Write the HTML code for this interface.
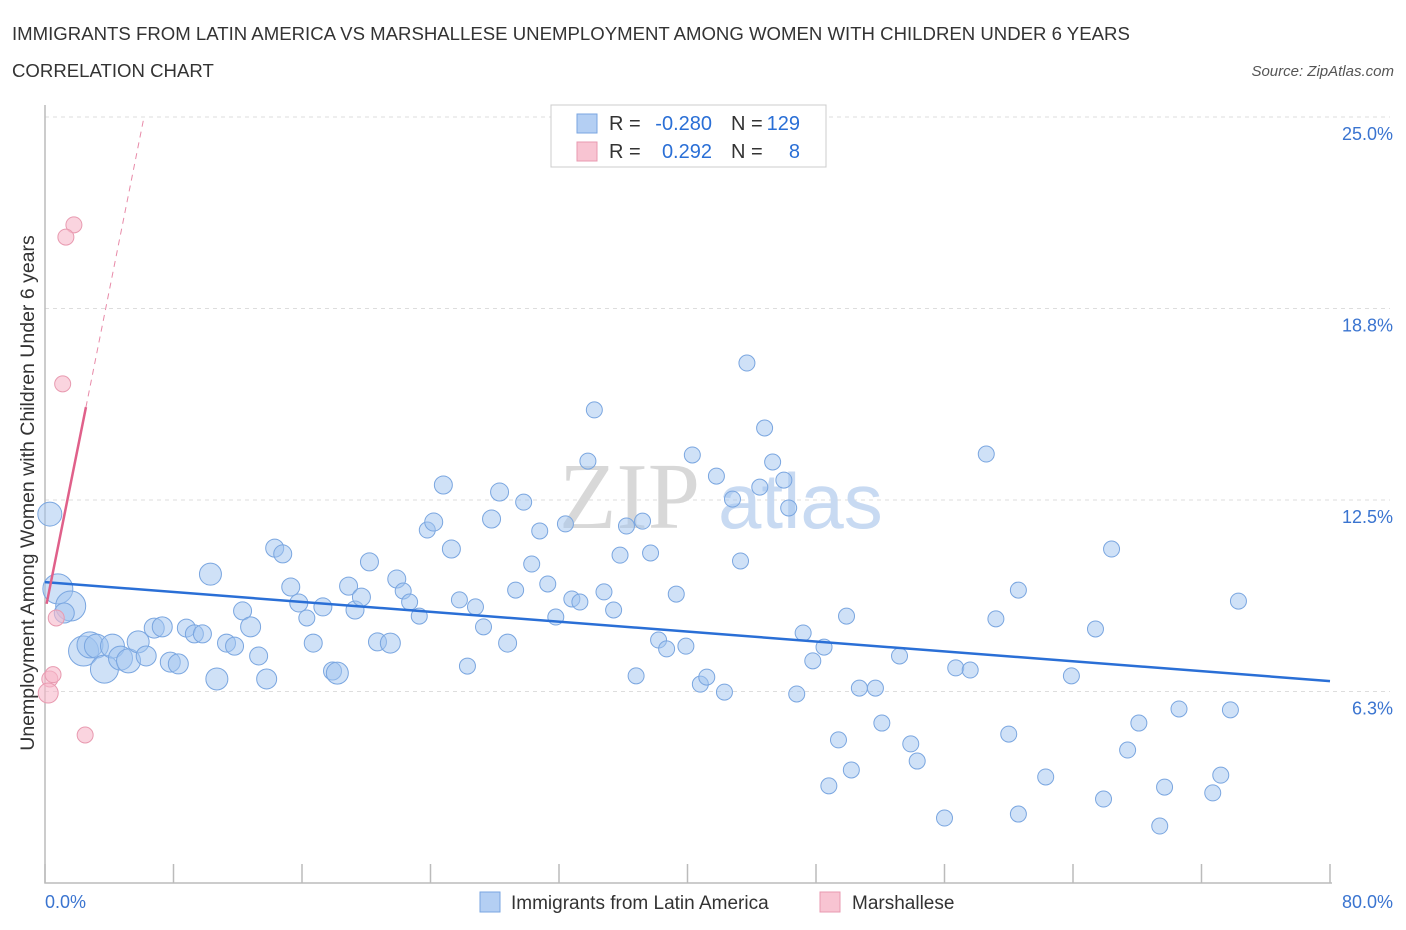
<!DOCTYPE html>
<html><head><meta charset="utf-8"><style>
body{margin:0;background:#fff;font-family:"Liberation Sans",sans-serif;}
svg{display:block}
</style></head><body>
<svg id="chart" width="1406" height="930">
<text x="12" y="40" font-size="18.6" fill="#333">IMMIGRANTS FROM LATIN AMERICA VS MARSHALLESE UNEMPLOYMENT AMONG WOMEN WITH CHILDREN UNDER 6 YEARS</text>
<text x="12" y="77" font-size="18.6" fill="#333">CORRELATION CHART</text>
<text x="1394" y="76" font-size="15" fill="#555" font-style="italic" text-anchor="end">Source: ZipAtlas.com</text>
<g id="grid"></g>
<text x="700" y="528" font-size="94" fill="#d8d8d8" font-family="Liberation Serif,serif" text-anchor="end">ZIP</text>
<text x="718" y="528" font-size="78" fill="#c8daf2">atlas</text>
<g id="marks"></g>
<text transform="translate(34,493) rotate(-90)" font-size="19.5" fill="#333" text-anchor="middle">Unemployment Among Women with Children Under 6 years</text>
<g>
<rect x="551" y="105" width="275" height="62" fill="#fff" stroke="#ccc"/>
<rect x="577" y="114" width="20" height="19" fill="#b4cff3" stroke="#7aa6e0"/>
<rect x="577" y="142" width="20" height="19" fill="#f8c4d2" stroke="#e89ab0"/>
<text x="609" y="130" font-size="20" fill="#333">R =</text>
<text x="712" y="130" font-size="20" fill="#2a6fd6" text-anchor="end">-0.280</text>
<text x="731" y="130" font-size="20" fill="#333">N =</text>
<text x="800" y="130" font-size="20" fill="#2a6fd6" text-anchor="end">129</text>
<text x="609" y="158" font-size="20" fill="#333">R =</text>
<text x="712" y="158" font-size="20" fill="#2a6fd6" text-anchor="end">0.292</text>
<text x="731" y="158" font-size="20" fill="#333">N =</text>
<text x="800" y="158" font-size="20" fill="#2a6fd6" text-anchor="end">8</text>
</g>
<g>
<rect x="480" y="892" width="20" height="20" fill="#b4cff3" stroke="#7aa6e0"/>
<text x="511" y="909" font-size="19" fill="#333">Immigrants from Latin America</text>
<rect x="820" y="892" width="20" height="20" fill="#f8c4d2" stroke="#e89ab0"/>
<text x="852" y="909" font-size="19" fill="#333">Marshallese</text>
</g>
</svg>
<script>
const yTicks=[6.25,12.5,18.75,25];
const yTickLabels=["6.3%","12.5%","18.8%","25.0%"];
const xTickVals=[0,8,16,24,32,40,48,56,64,72,80];
const xEndLabels=["0.0%","80.0%"];
const blueX=[0.3,0.8,1.6,1.2,2.4,2.8,3.2,3.7,4.2,4.7,5.2,5.8,6.3,6.8,7.3,7.8,8.3,8.8,9.3,9.8,10.3,10.7,11.3,11.8,12.3,12.8,13.3,13.8,14.3,14.8,15.3,15.8,16.3,16.7,17.3,17.9,18.2,18.9,19.3,19.7,20.2,20.7,21.5,21.9,22.3,22.7,23.3,23.8,24.2,24.8,25.3,25.8,26.3,26.8,27.3,27.8,28.3,28.8,29.3,29.8,30.3,30.8,31.3,31.8,32.4,32.8,33.3,33.8,34.2,34.8,35.4,35.8,36.2,36.8,37.2,37.7,38.2,38.7,39.3,39.9,40.3,40.8,41.2,41.8,42.3,42.8,43.3,43.7,44.5,44.8,45.3,46.0,46.3,46.8,47.2,47.8,48.5,48.8,49.4,49.9,50.2,50.7,51.7,52.1,53.2,53.9,54.3,56.0,56.7,57.6,58.6,59.2,60.0,60.6,60.6,62.3,63.9,65.4,65.9,66.4,67.4,68.1,69.4,69.7,70.6,72.7,73.2,73.8,74.3];
const blueY=[12.04,9.6,9.04,8.81,7.57,7.77,7.73,6.98,7.73,7.34,7.25,7.87,7.41,8.32,8.36,7.21,7.15,8.32,8.13,8.13,10.08,6.66,7.83,7.73,8.88,8.36,7.41,6.66,10.93,10.74,9.66,9.14,8.65,7.83,9.01,6.92,6.85,9.69,8.91,9.33,10.48,7.87,7.83,9.92,9.53,9.17,8.71,11.52,11.78,12.99,10.9,9.24,7.08,9.01,8.36,11.88,12.76,7.83,9.56,12.43,10.41,11.49,9.76,8.68,11.72,9.27,9.17,13.77,15.44,9.5,8.91,10.7,11.65,6.76,11.81,10.77,7.93,7.64,9.43,7.73,13.97,6.49,6.72,13.28,6.23,12.53,10.51,16.97,12.92,14.85,13.74,13.15,12.24,6.17,8.16,7.25,7.7,3.17,4.67,8.71,3.69,6.36,6.36,5.22,7.41,4.54,3.98,2.12,7.02,6.95,14.0,8.62,4.86,2.25,9.56,3.46,6.76,8.29,2.74,10.9,4.34,5.22,1.86,3.13,5.68,2.94,3.52,5.65,9.2];
const blueW=[12,15,15,10,15,13,12,14,12,12,12,11,10,10,10,10,10,9,9,9,11,11,9,9,9,10,9,10,9,9,9,9,8,9,9,9,11,9,9,9,9,9,10,9,8,8,8,8,9,9,9,8,8,8,8,9,9,9,8,8,8,8,8,8,8,8,8,8,8,8,8,8,8,8,8,8,8,8,8,8,8,8,8,8,8,8,8,8,8,8,8,8,8,8,8,8,8,8,8,8,8,8,8,8,8,8,8,8,8,8,8,8,8,8,8,8,8,8,8,8,8,8,8,8,8,8,8,8,8];
const pinkX=[1.8,1.3,1.1,0.7,0.3,0.2,0.5,2.5];
const pinkY=[21.48,21.08,16.29,8.65,6.66,6.2,6.8,4.83];
const pinkW=[8,8,8,8,8,10,8,8];
const blueTrend=[9.82,6.59];
const pinkTrend=[8.85,2.62];
const X0=45,X1=1330,Y0=883,PER=30.64;
const sx=v=>X0+(X1-X0)*v/80;
const sy=v=>Y0-v*PER;
const NS="http://www.w3.org/2000/svg";
function mk(tag,attrs,parent){const e=document.createElementNS(NS,tag);for(const k in attrs)e.setAttribute(k,attrs[k]);parent.appendChild(e);return e;}
const grid=document.getElementById('grid');
const marks=document.getElementById('marks');
yTicks.forEach((t,i)=>{
  const l=mk('line',{x1:X0,x2:X1+60,y1:sy(t),y2:sy(t),stroke:'#ddd','stroke-dasharray':'4,4'},grid);
  
  
  const tx=mk('text',{x:1393,y:sy(t)+23,'font-size':18,fill:'#3a74d0','text-anchor':'end'},grid);
  tx.textContent=yTickLabels[i];
  
  
});
const ax=mk('path',{d:`M${X0} 105 V${Y0} H${X1+2}`,stroke:'#bbb','stroke-width':1.5,fill:'none'},grid);


xTickVals.forEach(v=>{
  const t=mk('line',{x1:sx(v),x2:sx(v),y1:864,y2:Y0,stroke:'#bbb','stroke-width':1.5},grid);
  
  
});
const xl0=mk('text',{x:45,y:908,'font-size':18,fill:'#3a74d0'},grid);xl0.textContent=xEndLabels[0];


const xl1=mk('text',{x:1393,y:908,'font-size':18,fill:'#3a74d0','text-anchor':'end'},grid);xl1.textContent=xEndLabels[1];


blueX.forEach((x,i)=>{
  const c=mk('circle',{cx:sx(x),cy:sy(blueY[i]),r:blueW[i],fill:'rgba(160,195,240,0.5)',stroke:'#7aa6e0','stroke-width':1},marks);
  
  
});
pinkX.forEach((x,i)=>{
  const c=mk('circle',{cx:sx(x),cy:sy(pinkY[i]),r:pinkW[i],fill:'rgba(246,184,202,0.6)',stroke:'#e89ab0','stroke-width':1},marks);
  
  
});
const bl=mk('line',{x1:sx(0),y1:sy(blueTrend[0]),x2:sx(80),y2:sy(blueTrend[1]),stroke:'#2a6fd6','stroke-width':2.5},marks);


const pxEnd=2.55,pxDash=(25-pinkTrend[0])/pinkTrend[1];
const pl=mk('line',{x1:sx(0.1),y1:sy(pinkTrend[0]+pinkTrend[1]*0.1),x2:sx(pxEnd),y2:sy(pinkTrend[0]+pinkTrend[1]*pxEnd),stroke:'#e0608a','stroke-width':2.5},marks);


const pd=mk('line',{x1:sx(pxEnd),y1:sy(pinkTrend[0]+pinkTrend[1]*pxEnd),x2:sx(pxDash),y2:sy(25),stroke:'#e88aa8','stroke-width':1,'stroke-dasharray':'6,5'},marks);


</script>
</body></html>
